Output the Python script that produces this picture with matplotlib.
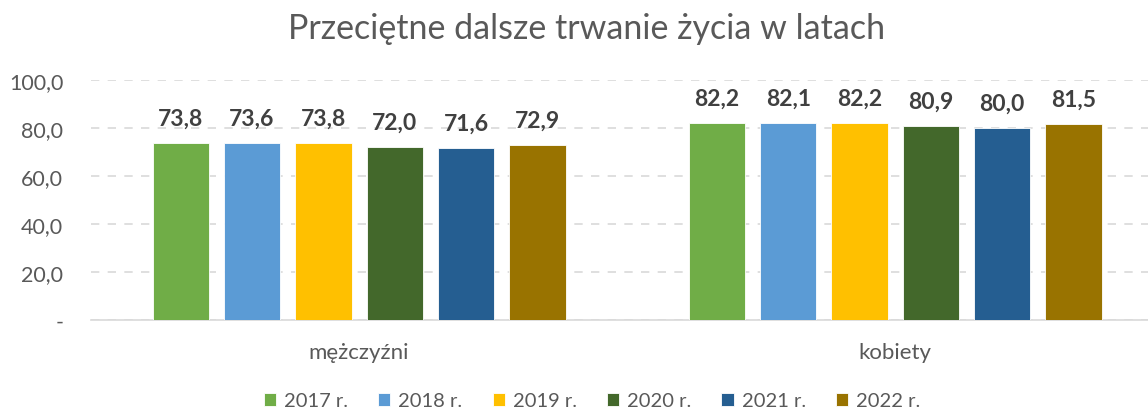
import numpy as np
import matplotlib
matplotlib.use('Agg')
import matplotlib.pyplot as plt

plt.rcParams['font.family'] = ['Lato', 'DejaVu Sans']

grupy = ['mężczyźni', 'kobiety']
lata = ['2017 r.', '2018 r.', '2019 r.', '2020 r.', '2021 r.', '2022 r.']
wartosci = {
    '2017 r.': [73.8, 82.2],
    '2018 r.': [73.6, 82.1],
    '2019 r.': [73.8, 82.2],
    '2020 r.': [72.0, 80.9],
    '2021 r.': [71.6, 80.0],
    '2022 r.': [72.9, 81.5],
}
kolory = ['#70AD47', '#5B9BD5', '#FFC000', '#43682B', '#255E91', '#997300']
yticks = [0, 20, 40, 60, 80, 100]
ytick_labels = ['-', '20,0', '40,0', '60,0', '80,0', '100,0']

fig = plt.figure(figsize=(11.48, 4.14), dpi=100)
ax = fig.add_axes([91 / 1148, 93 / 414, 1057 / 1148, 240 / 414])

x = np.arange(len(grupy))
krok = 0.1331
szer = 0.105
for i, rok in enumerate(lata):
    pos = x + (i - 2.5) * krok
    bars = ax.bar(pos, wartosci[rok], width=szer, color=kolory[i],
                  edgecolor='white', linewidth=0.6, label=rok, zorder=3)
    for b, v in zip(bars, wartosci[rok]):
        ax.annotate(f'{v:.1f}'.replace('.', ','),
                    (b.get_x() + b.get_width() / 2, v),
                    xytext=(0, 18), textcoords='offset points',
                    ha='center', va='center', fontsize=16.5, fontweight='bold',
                    color='#404040')

ax.set_xlim(-0.5, 1.4715)
ax.set_ylim(0, 100)
ax.set_yticks(yticks)
ax.set_yticklabels(ytick_labels)
ax.set_xticks(x)
ax.set_xticklabels(grupy)
ax.tick_params(axis='y', length=0, pad=20, labelsize=15.5, labelcolor='#595959')
ax.tick_params(axis='x', length=0, pad=16, labelsize=16, labelcolor='#595959')
ax.yaxis.grid(True, linestyle=(0, (5, 5)), color='#D9D9D9', linewidth=1.2, zorder=0)
for s in ['top', 'right', 'left']:
    ax.spines[s].set_visible(False)
ax.spines['bottom'].set_color('#D9D9D9')
ax.spines['bottom'].set_linewidth(1.2)

fig.text(587 / 1148, 1 - 29 / 414, 'Przeciętne dalsze trwanie życia w latach',
         ha='center', va='center', fontsize=24.5, color='#595959')

fig.legend(loc='lower center', bbox_to_anchor=(592 / 1148, -0.035), ncol=6,
           frameon=False, fontsize=14.5, handlelength=0.6, handleheight=0.6,
           handletextpad=0.4, columnspacing=1.5, labelcolor='#595959')

fig.savefig('out.png', dpi=100)
